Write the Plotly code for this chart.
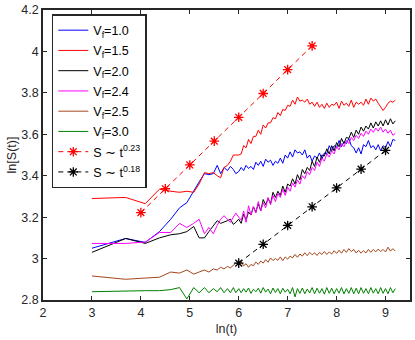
import plotly.graph_objects as go

# ---------------- data ----------------
ln_t_early = [3.00, 3.69, 4.09, 4.38, 4.61, 4.79, 4.94, 5.08, 5.19, 5.30,
              5.39, 5.48, 5.56, 5.63, 5.70, 5.77, 5.83, 5.89, 5.94, 6.00]
ln_t_late = [6.05, 6.10, 6.15, 6.20, 6.25, 6.30, 6.35, 6.40, 6.45, 6.50,
             6.55, 6.60, 6.65, 6.70, 6.75, 6.80, 6.85, 6.90, 6.95, 7.00,
             7.05, 7.10, 7.15, 7.20, 7.25, 7.30, 7.35, 7.40, 7.45, 7.50,
             7.55, 7.60, 7.65, 7.70, 7.75, 7.80, 7.85, 7.90, 7.95, 8.00,
             8.05, 8.10, 8.15, 8.20, 8.25, 8.30, 8.35, 8.40, 8.45, 8.50,
             8.55, 8.60, 8.65, 8.70, 8.75, 8.80, 8.85, 8.90, 8.95, 9.00,
             9.05, 9.10, 9.15, 9.20]

vf10_early = [3.05, 3.097, 3.078, 3.13, 3.19, 3.245, 3.27, 3.33, 3.37, 3.41,
              3.405, 3.41, 3.45, 3.41, 3.44, 3.425, 3.445, 3.43, 3.41, 3.42]
vf10_late = [3.44, 3.425, 3.45, 3.435, 3.445, 3.43, 3.465, 3.45, 3.47, 3.445,
             3.48, 3.465, 3.475, 3.45, 3.47, 3.46, 3.485, 3.46, 3.50, 3.485,
             3.515, 3.49, 3.525, 3.51, 3.515, 3.50, 3.525, 3.485, 3.50, 3.47,
             3.495, 3.485, 3.51, 3.48, 3.51, 3.505, 3.545, 3.52, 3.545, 3.535,
             3.57, 3.54, 3.565, 3.555, 3.58, 3.545, 3.535, 3.51, 3.535, 3.505,
             3.55, 3.54, 3.57, 3.535, 3.545, 3.525, 3.55, 3.52, 3.545, 3.535,
             3.565, 3.54, 3.575, 3.57]

vf15_early = [3.29, 3.295, 3.265, 3.335, 3.325, 3.32, 3.325, 3.32, 3.36, 3.415,
              3.41, 3.415, 3.40, 3.39, 3.44, 3.45, 3.47, 3.50, 3.50, 3.50]
vf15_late = [3.505, 3.545, 3.535, 3.575, 3.555, 3.59, 3.59, 3.62, 3.60, 3.645,
             3.63, 3.655, 3.655, 3.68, 3.675, 3.705, 3.69, 3.72, 3.715, 3.74,
             3.735, 3.765, 3.745, 3.78, 3.76, 3.765, 3.755, 3.77, 3.745, 3.755,
             3.735, 3.755, 3.73, 3.745, 3.725, 3.75, 3.73, 3.745, 3.74, 3.755,
             3.725, 3.76, 3.74, 3.75, 3.735, 3.765, 3.73, 3.755, 3.745, 3.755,
             3.74, 3.77, 3.745, 3.775, 3.76, 3.77, 3.75, 3.735, 3.715, 3.73,
             3.75, 3.76, 3.755, 3.765]

vf20_early = [3.03, 3.097, 3.073, 3.10, 3.115, 3.12, 3.13, 3.155, 3.10, 3.10,
              3.13, 3.16, 3.183, 3.17, 3.175, 3.183, 3.19, 3.165, 3.175, 3.19]
vf20_late = [3.17, 3.215, 3.185, 3.225, 3.21, 3.25, 3.225, 3.265, 3.23, 3.285,
             3.26, 3.29, 3.265, 3.32, 3.295, 3.325, 3.305, 3.35, 3.32, 3.36,
             3.35, 3.385, 3.36, 3.405, 3.38, 3.43, 3.41, 3.44, 3.425, 3.47,
             3.445, 3.49, 3.465, 3.50, 3.495, 3.53, 3.505, 3.545, 3.52, 3.56,
             3.54, 3.58, 3.555, 3.585, 3.58, 3.61, 3.585, 3.62, 3.60, 3.635,
             3.615, 3.64, 3.625, 3.655, 3.63, 3.66, 3.64, 3.665, 3.64, 3.67,
             3.645, 3.675, 3.65, 3.665]

vf24_early = [3.073, 3.073, 3.08, 3.126, 3.126, 3.17, 3.15, 3.17, 3.19, 3.12,
              3.15, 3.12, 3.16, 3.19, 3.207, 3.19, 3.175, 3.20, 3.22, 3.20]
vf24_late = [3.185, 3.23, 3.175, 3.255, 3.21, 3.25, 3.22, 3.275, 3.23, 3.27,
             3.245, 3.295, 3.26, 3.305, 3.275, 3.315, 3.295, 3.335, 3.305, 3.345,
             3.325, 3.365, 3.345, 3.38, 3.36, 3.40, 3.385, 3.42, 3.405, 3.44,
             3.425, 3.465, 3.445, 3.485, 3.47, 3.505, 3.49, 3.52, 3.505, 3.54,
             3.525, 3.555, 3.54, 3.57, 3.555, 3.585, 3.57, 3.595, 3.58, 3.605,
             3.59, 3.615, 3.60, 3.625, 3.61, 3.63, 3.615, 3.635, 3.61, 3.625,
             3.605, 3.62, 3.595, 3.605]

vf25_early = [2.916, 2.90, 2.906, 2.91, 2.935, 2.93, 2.945, 2.925, 2.935, 2.945,
              2.935, 2.95, 2.945, 2.958, 2.95, 2.962, 2.955, 2.97, 2.978, 2.975]
vf25_late = [2.985, 2.965, 2.975, 2.958, 2.972, 2.965, 2.983, 2.972, 2.988, 2.978,
             2.995, 2.982, 3.003, 2.99, 3.0, 2.992, 3.008, 2.99, 3.008, 2.997,
             3.012, 3.003, 3.02, 3.006, 3.022, 3.012, 3.028, 3.014, 3.03, 3.018,
             3.028, 3.015, 3.03, 3.02, 3.034, 3.02, 3.032, 3.022, 3.038, 3.025,
             3.04, 3.026, 3.044, 3.03, 3.048, 3.034, 3.044, 3.027, 3.04, 3.026,
             3.038, 3.027, 3.044, 3.03, 3.044, 3.032, 3.046, 3.034, 3.044, 3.032,
             3.055, 3.036, 3.048, 3.036]

vf30_early = [2.84, 2.845, 2.845, 2.845, 2.85, 2.86, 2.805, 2.86, 2.835, 2.86,
              2.835, 2.855, 2.84, 2.86, 2.835, 2.855, 2.835, 2.86, 2.835, 2.855]
vf30_late = [2.835, 2.855, 2.838, 2.858, 2.832, 2.852, 2.84, 2.857, 2.833, 2.86,
             2.838, 2.853, 2.83, 2.858, 2.836, 2.855, 2.83, 2.857, 2.838, 2.852,
             2.83, 2.86, 2.815, 2.855, 2.832, 2.858, 2.83, 2.853, 2.834, 2.86,
             2.83, 2.857, 2.833, 2.855, 2.828, 2.86, 2.832, 2.857, 2.83, 2.855,
             2.833, 2.86, 2.83, 2.855, 2.832, 2.86, 2.83, 2.857, 2.83, 2.86,
             2.832, 2.855, 2.83, 2.86, 2.833, 2.855, 2.83, 2.86, 2.832, 2.855,
             2.83, 2.86, 2.835, 2.855]

fit023_ln_t = [4.0, 4.5, 5.0, 5.5, 6.0, 6.5, 7.0, 7.5]
fit023_s = [3.222, 3.337, 3.452, 3.567, 3.682, 3.797, 3.912, 4.027]
fit018_ln_t = [6.0, 6.5, 7.0, 7.5, 8.0, 8.5, 9.0]
fit018_s = [2.978, 3.069, 3.160, 3.250, 3.341, 3.432, 3.522]

series_names = ["V<sub>f</sub>=1.0", "V<sub>f</sub>=1.5", "V<sub>f</sub>=2.0",
                "V<sub>f</sub>=2.4", "V<sub>f</sub>=2.5", "V<sub>f</sub>=3.0"]
series_colors = ["#0000ff", "#ff0000", "#000000", "#ff00ff", "#a5461c", "#008000"]
series_values = [vf10_early + vf10_late, vf15_early + vf15_late,
                 vf20_early + vf20_late, vf24_early + vf24_late,
                 vf25_early + vf25_late, vf30_early + vf30_late]
fit_names = ["S \u223c t<sup>0.23</sup>", "S \u223c t<sup>0.18</sup>"]

x_ticks = [2, 3, 4, 5, 6, 7, 8, 9]
y_ticks = [2.8, 3.0, 3.2, 3.4, 3.6, 3.8, 4.0, 4.2]
y_tick_text = ["2.8", "3", "3.2", "3.4", "3.6", "3.8", "4", "4.2"]

# ---------------- figure ----------------
FONT = "Liberation Sans, Arial, sans-serif"
ln_t = ln_t_early + ln_t_late
fig = go.Figure()
for i, (name, color, vals) in enumerate(zip(series_names, series_colors, series_values)):
    fig.add_trace(go.Scatter(x=ln_t, y=vals, mode="lines", name=name,
                             legendgroup="g%d" % i,
                             line=dict(color=color, width=1)))

for j, (name, color, xs, ys) in enumerate(
        [(fit_names[0], "#ff0000", fit023_ln_t, fit023_s),
         (fit_names[1], "#000000", fit018_ln_t, fit018_s)]):
    fig.add_trace(go.Scatter(x=xs, y=ys, mode="lines+markers", name=name,
                             legendgroup="f%d" % j,
                             line=dict(color=color, width=1, dash="5px,4px"),
                             marker=dict(symbol="asterisk-open", size=8,
                                         color=color,
                                         line=dict(color=color, width=1.3))))

axis_common = dict(showgrid=False, zeroline=False, showline=True, mirror="ticks",
                   linecolor="#262626", linewidth=1.5, ticks="inside", ticklen=4,
                   tickcolor="#262626", tickwidth=1,
                   tickfont=dict(family=FONT, size=12.5, color="#262626"))

fig.update_xaxes(range=[2, 9.5], tickvals=x_ticks,
                 title=dict(text="ln(t)", standoff=5,
                            font=dict(family=FONT, size=12.5, color="#262626")),
                 **axis_common)
fig.update_yaxes(range=[2.8, 4.2], tickvals=y_ticks, ticktext=y_tick_text,
                 title=dict(text="ln[S(t)]", standoff=2,
                            font=dict(family=FONT, size=12.5, color="#262626")),
                 **axis_common)

fig.update_layout(
    width=415, height=340,
    margin=dict(l=43, r=3, t=7, b=40),
    paper_bgcolor="white", plot_bgcolor="white",
    font=dict(family=FONT, size=12, color="#000000"),
    showlegend=True,
    legend=dict(x=0.024, y=0.986, xanchor="left", yanchor="top",
                bgcolor="white", bordercolor="#262626", borderwidth=1.5,
                itemwidth=30, tracegroupgap=1,
                font=dict(family=FONT, size=12.5, color="#000000")),
)

fig.write_html("out.html", config={"displayModeBar": False},
               post_script="document.body.style.margin='0px';")
